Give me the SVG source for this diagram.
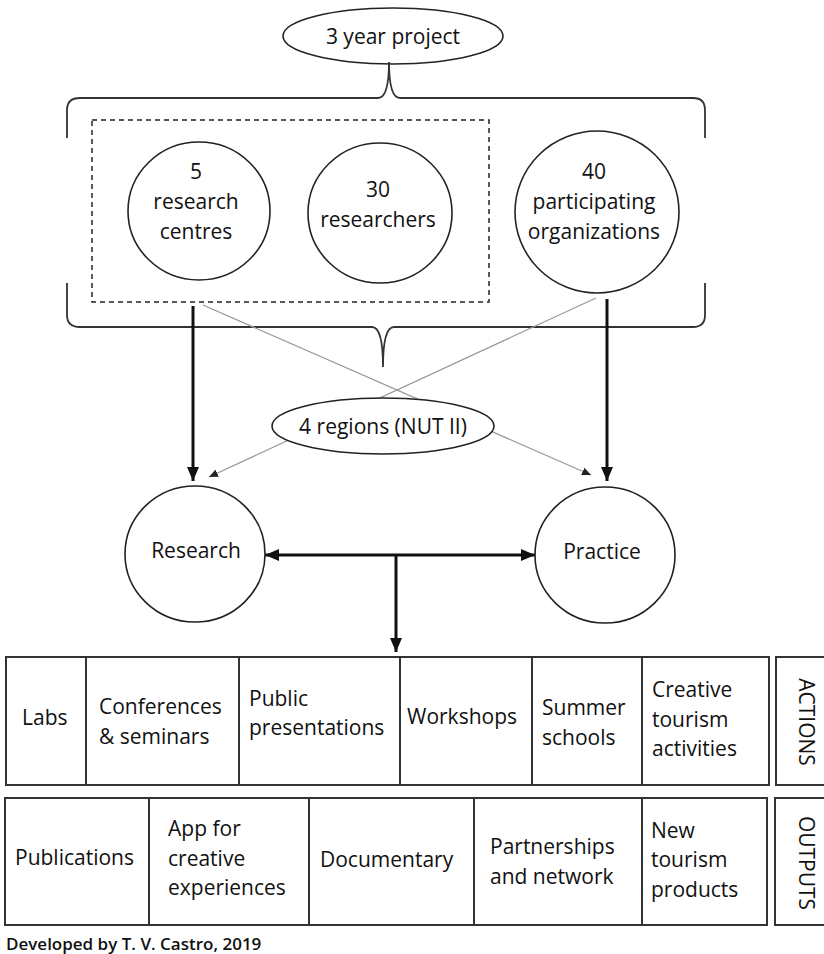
<svg xmlns="http://www.w3.org/2000/svg" width="824" height="954" viewBox="0 0 824 954">
<style>
text{font-family:"Open Sans","Liberation Sans",sans-serif;font-size:21px;fill:#111}
.c{text-anchor:middle}
.shape{fill:#fff;stroke:#222;stroke-width:1.6}
.brace{fill:none;stroke:#333;stroke-width:1.8}
.dash{fill:none;stroke:#222;stroke-width:1.5;stroke-dasharray:5 4}
.thick{stroke:#111;stroke-width:3;fill:none}
.thin{stroke:#999;stroke-width:1.2;fill:none}
.tbl{fill:#fff;stroke:#333;stroke-width:2}
.div{stroke:#333;stroke-width:2}
</style>
<defs>
<marker id="ah" markerUnits="userSpaceOnUse" markerWidth="16" markerHeight="12" refX="14" refY="6" orient="auto-start-reverse"><path d="M0,0 L14,6 L0,12 Z" fill="#111"/></marker>
<marker id="ahs" markerUnits="userSpaceOnUse" markerWidth="10" markerHeight="8" refX="9" refY="4" orient="auto"><path d="M0,0 L9,4 L0,8 Z" fill="#222"/></marker>
</defs>
<rect width="824" height="954" fill="#fff"/>

<g id="project">
<ellipse class="shape" cx="393" cy="36" rx="110" ry="28"/>
<text class="c" x="393" y="44">3 year project</text>
</g>

<g id="braces">
<path class="brace" d="M67,138 L67,110 Q67,98 80,98 L378,98 Q389,98 389,62 Q389,98 400,98 L693,98 Q705,98 705,110 L705,138"/>
<path class="brace" d="M67,283 L67,315 Q67,327 80,327 L372,327 Q383,327 383,367 Q383,327 394,327 L693,327 Q705,327 705,315 L705,283"/>
</g>

<g id="group-box">
<rect class="dash" x="92" y="120" width="397" height="182"/>
</g>

<g id="centres">
<ellipse class="shape" cx="199" cy="211" rx="71" ry="69"/>
<text class="c" x="196" y="179">5</text>
<text class="c" x="196" y="209">research</text>
<text class="c" x="196" y="239">centres</text>
</g>

<g id="researchers">
<ellipse class="shape" cx="380" cy="213" rx="72" ry="70"/>
<text class="c" x="378" y="197">30</text>
<text class="c" x="378" y="227">researchers</text>
</g>

<g id="organizations">
<ellipse class="shape" cx="597" cy="212" rx="82" ry="81"/>
<text class="c" x="594" y="179">40</text>
<text class="c" x="594" y="209">participating</text>
<text class="c" x="594" y="239">organizations</text>
</g>

<g id="connectors">
<line class="thin" x1="203" y1="305" x2="591" y2="475" marker-end="url(#ahs)"/>
<line class="thin" x1="596" y1="298" x2="209" y2="477" marker-end="url(#ahs)"/>
<line class="thick" x1="193" y1="306" x2="193" y2="481" marker-end="url(#ah)"/>
<line class="thick" x1="607" y1="299" x2="607" y2="481" marker-end="url(#ah)"/>
<line class="thick" stroke-width="4" x1="265" y1="555" x2="535" y2="555" marker-start="url(#ah)" marker-end="url(#ah)"/>
<line class="thick" x1="396" y1="555" x2="396" y2="652" marker-end="url(#ah)"/>
</g>

<g id="regions">
<ellipse class="shape" cx="383" cy="426" rx="111" ry="28"/>
<text class="c" x="383" y="434">4 regions (NUT II)</text>
</g>

<g id="research">
<ellipse class="shape" cx="195" cy="554" rx="70" ry="68"/>
<text class="c" x="196" y="558">Research</text>
</g>

<g id="practice">
<ellipse class="shape" cx="605" cy="555" rx="70" ry="68"/>
<text class="c" x="602" y="559">Practice</text>
</g>

<g id="actions">
<rect class="tbl" x="6" y="657" width="763" height="128"/>
<line class="div" x1="86" y1="657" x2="86" y2="785"/>
<line class="div" x1="239" y1="657" x2="239" y2="785"/>
<line class="div" x1="400" y1="657" x2="400" y2="785"/>
<line class="div" x1="532" y1="657" x2="532" y2="785"/>
<line class="div" x1="642" y1="657" x2="642" y2="785"/>
<text x="22" y="725">Labs</text>
<text x="99" y="714">Conferences</text>
<text x="99" y="744">&amp; seminars</text>
<text x="249" y="706">Public</text>
<text x="249" y="735">presentations</text>
<text x="407" y="724">Workshops</text>
<text x="542" y="715">Summer</text>
<text x="542" y="745">schools</text>
<text x="652" y="697">Creative</text>
<text x="652" y="727">tourism</text>
<text x="652" y="756">activities</text>
</g>

<g id="actions-label">
<rect class="tbl" x="776" y="657" width="60" height="128"/>
<text class="c" transform="rotate(90 806 722)" x="806" y="729">ACTIONS</text>
</g>

<g id="outputs">
<rect class="tbl" x="5" y="798" width="762" height="127"/>
<line class="div" x1="149" y1="798" x2="149" y2="925"/>
<line class="div" x1="309" y1="798" x2="309" y2="925"/>
<line class="div" x1="474" y1="798" x2="474" y2="925"/>
<line class="div" x1="642" y1="798" x2="642" y2="925"/>
<text x="15" y="865">Publications</text>
<text x="168" y="836">App for</text>
<text x="168" y="866">creative</text>
<text x="168" y="895">experiences</text>
<text x="320" y="867">Documentary</text>
<text x="490" y="854">Partnerships</text>
<text x="490" y="884">and network</text>
<text x="651" y="838">New</text>
<text x="651" y="867">tourism</text>
<text x="651" y="897">products</text>
</g>

<g id="outputs-label">
<rect class="tbl" x="775" y="798" width="60" height="127"/>
<text class="c" transform="rotate(90 806 863)" x="806" y="870">OUTPUTS</text>
</g>

<text x="6" y="950" style="font-size:17px;font-weight:600">Developed by T. V. Castro, 2019</text>
</svg>
